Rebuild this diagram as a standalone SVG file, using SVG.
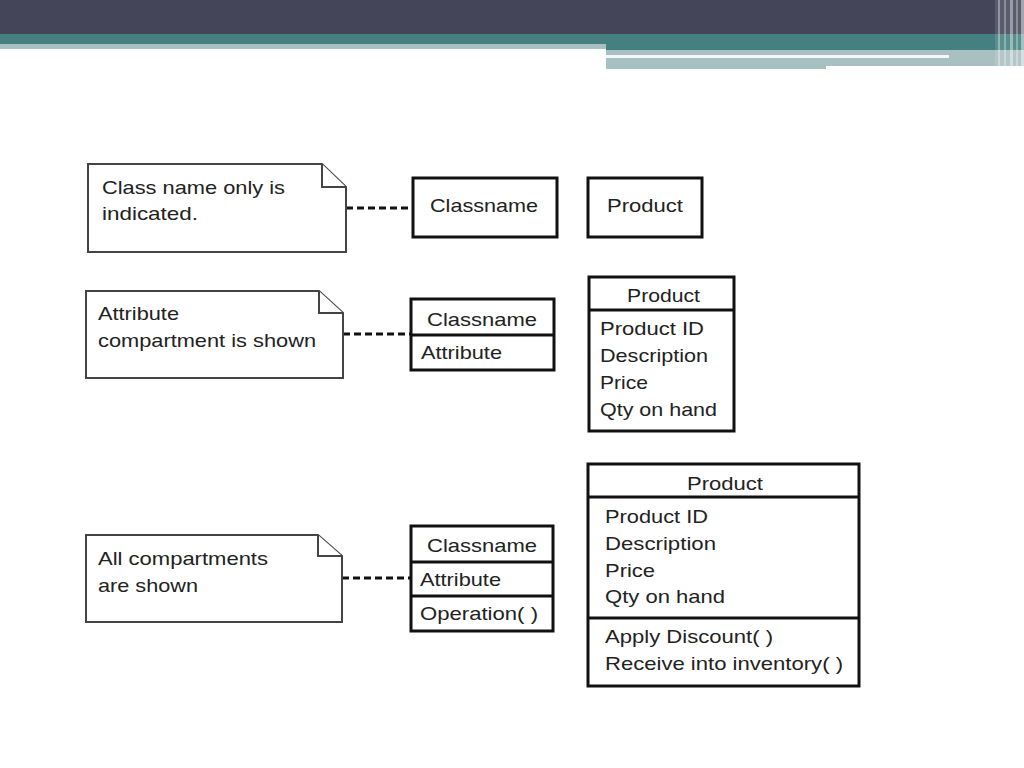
<svg xmlns="http://www.w3.org/2000/svg" width="1024" height="768" viewBox="0 0 1024 768">
<style>
.t{font-family:"Liberation Sans",Arial,sans-serif;font-size:19px;fill:#222}
.c{text-anchor:middle}
.note{fill:#fff;stroke:#444;stroke-width:2}
.box{fill:#fff;stroke:#111;stroke-width:3}
.div{stroke:#111;stroke-width:3}
.dash{stroke:#111;stroke-width:3;stroke-dasharray:7 4;fill:none}
</style>
<rect width="1024" height="768" fill="#fff"/>
<g id="header">
<rect x="0" y="0" width="1024" height="34" fill="#45455a"/>
<rect x="0" y="34" width="1024" height="10" fill="#43807f"/>
<rect x="0" y="44" width="606" height="5" fill="#a9c0c3"/>
<rect x="606" y="44" width="418" height="6" fill="#43807f"/>
<rect x="606" y="50" width="418" height="19" fill="#a9c0c3"/>
<rect x="606" y="55" width="343" height="3" fill="#f4f8f8"/>
<rect x="826" y="66" width="198" height="4" fill="#fff"/>
<rect x="995" y="0" width="29" height="69" fill="#fff" opacity="0.12"/>
<rect x="998" y="0" width="2" height="69" fill="#fff" opacity="0.35"/>
<rect x="1004" y="0" width="2" height="69" fill="#fff" opacity="0.3"/>
<rect x="1010" y="0" width="3" height="69" fill="#fff" opacity="0.4"/>
<rect x="1016" y="0" width="2" height="69" fill="#fff" opacity="0.3"/>
<rect x="1021" y="0" width="3" height="69" fill="#fff" opacity="0.45"/>
</g>
<g id="connectors">
<line class="dash" x1="346" y1="208" x2="413" y2="208"/>
<line class="dash" x1="343" y1="334" x2="410" y2="334"/>
<line class="dash" x1="342" y1="578" x2="410" y2="578"/>
</g>
<g id="note1">
<path class="note" d="M88 164 H322 L346 187 V252 H88 Z"/>
<path class="note" d="M322 164 V187 H346"/>
<text class="t" x="102" y="194" textLength="183" lengthAdjust="spacingAndGlyphs">Class name only is</text>
<text class="t" x="102" y="220" textLength="96" lengthAdjust="spacingAndGlyphs">indicated.</text>
</g>
<g id="note2">
<path class="note" d="M86 291 H319 L343 313 V378 H86 Z"/>
<path class="note" d="M319 291 V313 H343"/>
<text class="t" x="98" y="320" textLength="81" lengthAdjust="spacingAndGlyphs">Attribute</text>
<text class="t" x="98" y="347" textLength="218" lengthAdjust="spacingAndGlyphs">compartment is shown</text>
</g>
<g id="note3">
<path class="note" d="M86 535 H318 L342 556 V622 H86 Z"/>
<path class="note" d="M318 535 V556 H342"/>
<text class="t" x="98" y="565" textLength="170" lengthAdjust="spacingAndGlyphs">All compartments</text>
<text class="t" x="98" y="592" textLength="100" lengthAdjust="spacingAndGlyphs">are shown</text>
</g>
<g id="class1">
<rect class="box" x="413" y="178" width="144" height="59"/>
<text class="t" x="430" y="212" textLength="108" lengthAdjust="spacingAndGlyphs">Classname</text>
</g>
<g id="product1">
<rect class="box" x="588" y="178" width="114" height="59"/>
<text class="t" x="607" y="212" textLength="76" lengthAdjust="spacingAndGlyphs">Product</text>
</g>
<g id="class2">
<rect class="box" x="411" y="299" width="143" height="71"/>
<line class="div" x1="411" y1="335" x2="554" y2="335"/>
<text class="t" x="427" y="326" textLength="110" lengthAdjust="spacingAndGlyphs">Classname</text>
<text class="t" x="421" y="359" textLength="81" lengthAdjust="spacingAndGlyphs">Attribute</text>
</g>
<g id="product2">
<rect class="box" x="589" y="277" width="145" height="154"/>
<line class="div" x1="589" y1="310" x2="734" y2="310"/>
<text class="t" x="627" y="302" textLength="73" lengthAdjust="spacingAndGlyphs">Product</text>
<text class="t" x="600" y="335" textLength="104" lengthAdjust="spacingAndGlyphs">Product ID</text>
<text class="t" x="600" y="362" textLength="108" lengthAdjust="spacingAndGlyphs">Description</text>
<text class="t" x="600" y="389" textLength="48" lengthAdjust="spacingAndGlyphs">Price</text>
<text class="t" x="600" y="416" textLength="117" lengthAdjust="spacingAndGlyphs">Qty on hand</text>
</g>
<g id="class3">
<rect class="box" x="411" y="526" width="142" height="105"/>
<line class="div" x1="411" y1="562" x2="553" y2="562"/>
<line class="div" x1="411" y1="596" x2="553" y2="596"/>
<text class="t" x="427" y="552" textLength="110" lengthAdjust="spacingAndGlyphs">Classname</text>
<text class="t" x="420" y="586" textLength="81" lengthAdjust="spacingAndGlyphs">Attribute</text>
<text class="t" x="420" y="620" textLength="118" lengthAdjust="spacingAndGlyphs">Operation( )</text>
</g>
<g id="product3">
<rect class="box" x="588" y="464" width="271" height="222"/>
<line class="div" x1="588" y1="497" x2="859" y2="497"/>
<line class="div" x1="588" y1="618" x2="859" y2="618"/>
<text class="t" x="687" y="490" textLength="76" lengthAdjust="spacingAndGlyphs">Product</text>
<text class="t" x="605" y="523" textLength="103" lengthAdjust="spacingAndGlyphs">Product ID</text>
<text class="t" x="605" y="550" textLength="111" lengthAdjust="spacingAndGlyphs">Description</text>
<text class="t" x="605" y="577" textLength="50" lengthAdjust="spacingAndGlyphs">Price</text>
<text class="t" x="605" y="603" textLength="120" lengthAdjust="spacingAndGlyphs">Qty on hand</text>
<text class="t" x="605" y="643" textLength="168" lengthAdjust="spacingAndGlyphs">Apply Discount( )</text>
<text class="t" x="605" y="670" textLength="238" lengthAdjust="spacingAndGlyphs">Receive into inventory( )</text>
</g>
</svg>
